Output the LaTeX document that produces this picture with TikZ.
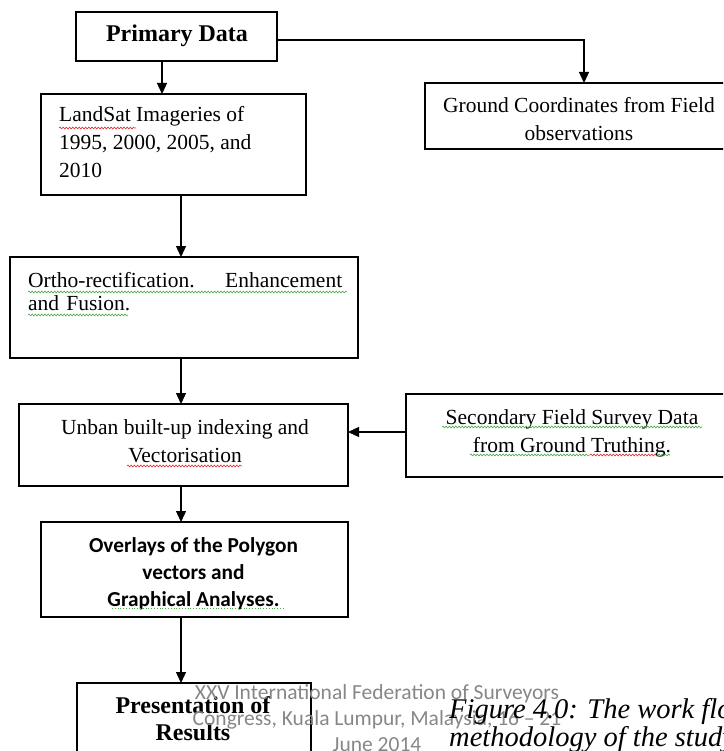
\documentclass[tikz,border=0pt]{standalone}
\usepackage{fontspec}
\setmainfont{Liberation Serif}
\newfontfamily\calibrifont{Carlito}
\usetikzlibrary{arrows.meta,decorations.pathmorphing}
\definecolor{wordgreen}{RGB}{70,170,70}
\definecolor{wordred}{RGB}{230,40,40}
\definecolor{wmgray}{RGB}{135,135,135}
\begin{document}
\begin{tikzpicture}[x=1pt,y=-1pt,
  box/.style={draw=black, line width=1.4pt, inner sep=0pt, outer sep=0pt},
  arr/.style={line width=1.3pt, -{Triangle[length=11pt,width=10pt]}},
  serifreg/.style={font=\fontsize{21.5}{28}\selectfont, inner sep=0pt, align=center},
  serifbold/.style={font=\fontsize{24}{27}\selectfont\bfseries, inner sep=0pt, align=center},
  calbold/.style={font=\calibrifont\fontsize{21.3}{27}\selectfont\bfseries, inner sep=0pt, align=center},
  wmark/.style={font=\calibrifont\fontsize{21.5}{26}\selectfont, text=wmgray, inner sep=0pt, align=center},
  captext/.style={font=\fontsize{28.5}{28}\selectfont\itshape, inner sep=0pt, align=left},
  wavyg/.style={draw=wordgreen, line width=0.6pt, decorate, decoration={snake, amplitude=0.9pt, segment length=3.2pt}},
  wavyr/.style={draw=wordred, line width=0.6pt, decorate, decoration={snake, amplitude=0.9pt, segment length=3.2pt}},
  dotg/.style={draw=wordgreen, line width=0.8pt, dotted}
]
\useasboundingbox (0,0) rectangle (723,751);
\clip (0,0) rectangle (723,751);
\fill[white] (0,0) rectangle (723,751);

% boxes
\node[box, minimum width=201pt, minimum height=49pt] (prim) at (176.5,36.5) {};
\node[box, minimum width=265pt, minimum height=101pt] (land) at (173.5,144.5) {};
\node[box, minimum width=310pt, minimum height=66pt] (ground) at (580,116) {};
\node[box, minimum width=348pt, minimum height=101pt] (ortho) at (184,307.5) {};
\node[box, minimum width=329pt, minimum height=82pt] (unban) at (183.5,445) {};
\node[box, minimum width=334pt, minimum height=83pt] (second) at (573,435.5) {};
\node[box, minimum width=307pt, minimum height=95pt] (overlay) at (194.5,569.5) {};
\node[box, minimum width=234pt, minimum height=97pt] (pres) at (194,731.5) {};

% texts (base anchor = baseline of last line)
\node[serifbold, anchor=base] (primT) at (177,42) {Primary Data};
\node[serifreg, anchor=base west, align=left] (landT) at (59,178) {LandSat Imageries of\\1995, 2000, 2005, and\\2010};
\node[serifreg, anchor=base] (groundT) at (579,141) {Ground Coordinates from Field\\observations};
\node[font=\fontsize{21.5}{23}\selectfont, inner sep=0pt, anchor=base west, text width=314pt, align=left] (orthoT) at (28,287) {Ortho-rectification.\hfill Enhancement\\and Fusion.};
\node[serifreg, anchor=base] (unbanT) at (185,462) {Unban built-up indexing and\\Vectorisation};
\node[serifreg, anchor=base] (secondT) at (572,452) {Secondary Field Survey Data\\from Ground Truthing.};
\node[calbold, anchor=base] (overlayT) at (193.5,606) {Overlays of the Polygon\\vectors and\\Graphical Analyses.};
\node[serifbold, anchor=base] (presT) at (193,740) {Presentation of\\Results};

% connectors
\draw[arr] (162,0 |- prim.south) -- (162,0 |- land.north);
\draw[arr] (prim.east |- 0,40) -- (584,40) -- (584,0 |- ground.north);
\draw[arr] (181,0 |- land.south) -- (181,0 |- ortho.north);
\draw[arr] (181,0 |- ortho.south) -- (181,0 |- unban.north);
\draw[arr] (second.west |- 0,432) -- (unban.east |- 0,432);
\draw[arr] (181,0 |- unban.south) -- (181,0 |- overlay.north);
\draw[arr] (181,0 |- overlay.south) -- (181,0 |- pres.north);

% spell-check marks
\draw[wavyr] (59,128) -- (136,128);
\draw[wavyg] (28,292) -- (347,292);
\draw[wavyg] (28,315) -- (128,315);
\draw[wavyr] (127,466) -- (242,466);
\draw[wavyg] (442,427) -- (702,427);
\draw[wavyg] (470,455) -- (590,455);
\draw[wavyr] (590,455) -- (658,455);
\draw[wavyg] (658,455) -- (670,455);
\draw[dotg] (112,608) -- (283,608);

% footer watermark and caption
\node[wmark, anchor=base] (wm) at (377,751) {XXV International Federation of Surveyors\\Congress, Kuala Lumpur, Malaysia, 16 – 21\\June 2014};
\node[captext, anchor=base west] (cap) at (449,746) {Figure 4.0: The work flow\\methodology of the study};
\end{tikzpicture}
\end{document}
